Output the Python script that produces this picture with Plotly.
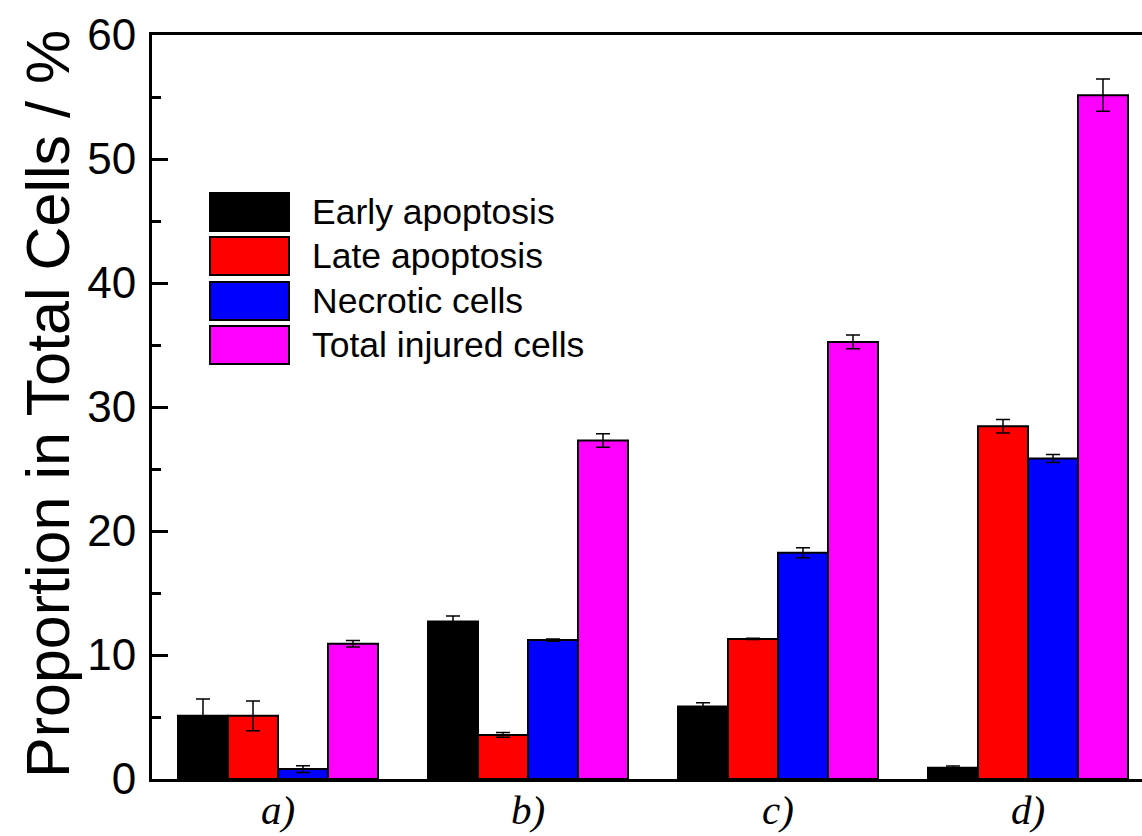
import plotly.graph_objects as go

# ---- data ----
categories = ["a)", "b)", "c)", "d)"]
series_names = ["Early apoptosis", "Late apoptosis", "Necrotic cells", "Total injured cells"]
early = [5.1, 12.7, 5.85, 0.9]
early_err = [1.35, 0.45, 0.3, 0.14]
late = [5.1, 3.55, 11.3, 28.45]
late_err = [1.2, 0.19, 0.06, 0.55]
necrotic = [0.8, 11.2, 18.25, 25.85]
necrotic_err = [0.27, 0.1, 0.4, 0.32]
total = [10.9, 27.3, 35.25, 55.15]
total_err = [0.26, 0.55, 0.55, 1.3]
colors = ["#000000", "#ff0000", "#0000ff", "#ff00ff"]

W, H = 1142, 836
ML, MR, MT, MB = 152, 0, 35, 57
PW, PH = W - ML - MR, H - MT - MB

def px(x):
    return (x - ML) / PW

def py(y):
    return (H - MB - y) / PH

fig = go.Figure()
values = [early, late, necrotic, total]
errs = [early_err, late_err, necrotic_err, total_err]
for name, v, e, c in zip(series_names, values, errs, colors):
    fig.add_trace(go.Bar(
        x=list(range(len(categories))), y=v, name=name,
        marker=dict(color=c, line=dict(color="black", width=2)),
        error_y=dict(type="data", array=e, visible=True, color="black",
                     thickness=1.5, width=7),
        showlegend=False,
    ))

# custom legend (large swatches like the original)
sw_top = [193, 237, 282, 326]
sw_h = 38
for i, (name, c) in enumerate(zip(series_names, colors)):
    fig.add_shape(type="rect", xref="paper", yref="paper",
                  x0=px(210), x1=px(289), y0=py(sw_top[i] + sw_h), y1=py(sw_top[i]),
                  fillcolor=c, line=dict(color="black", width=2))
    fig.add_annotation(xref="paper", yref="paper", x=px(310), y=py(sw_top[i] + sw_h / 2),
                       text=name, showarrow=False, xanchor="left", yanchor="middle",
                       font=dict(family="Liberation Sans, Arial", size=35.5, color="black"))

# y-axis title
fig.add_annotation(xref="paper", yref="paper", x=px(48), y=py(404),
                   text="Proportion in Total Cells / %", showarrow=False,
                   textangle=-90, xanchor="center", yanchor="middle",
                   font=dict(family="Liberation Sans, Arial", size=61, color="black"))

fig.update_layout(
    width=W, height=H,
    margin=dict(l=ML, r=MR, t=MT, b=MB, autoexpand=False),
    paper_bgcolor="white", plot_bgcolor="white",
    barmode="group", bargap=0.2, bargroupgap=0,
    showlegend=False,
)
fig.update_xaxes(
    range=[-0.504, 3.456], automargin=False,
    tickmode="array", tickvals=list(range(len(categories))),
    ticktext=["<i>%s</i>" % c for c in categories],
    tickfont=dict(family="Liberation Serif, Times New Roman", size=41, color="black"),
    tickson="boundaries", ticks="inside", ticklen=8, tickwidth=2, tickcolor="black",
    showline=True, linecolor="black", linewidth=3, mirror=True,
    showgrid=False, zeroline=False, ticklabelstandoff=-7,
)
fig.update_yaxes(
    range=[0, 60], dtick=10, tick0=0, automargin=False,
    tickfont=dict(family="Liberation Sans, Arial", size=44, color="black"),
    ticks="inside", ticklen=16, tickwidth=2.5, tickcolor="black",
    minor=dict(ticks="inside", ticklen=9, dtick=5, tickwidth=2.5, tickcolor="black", showgrid=False),
    showline=True, linecolor="black", linewidth=3, mirror=False,
    showgrid=False, zeroline=False, ticklabelstandoff=4,
)

fig.write_html("out.html", config={"displayModeBar": False},
               post_script="document.body.style.margin='0';document.body.style.overflow='hidden';")
